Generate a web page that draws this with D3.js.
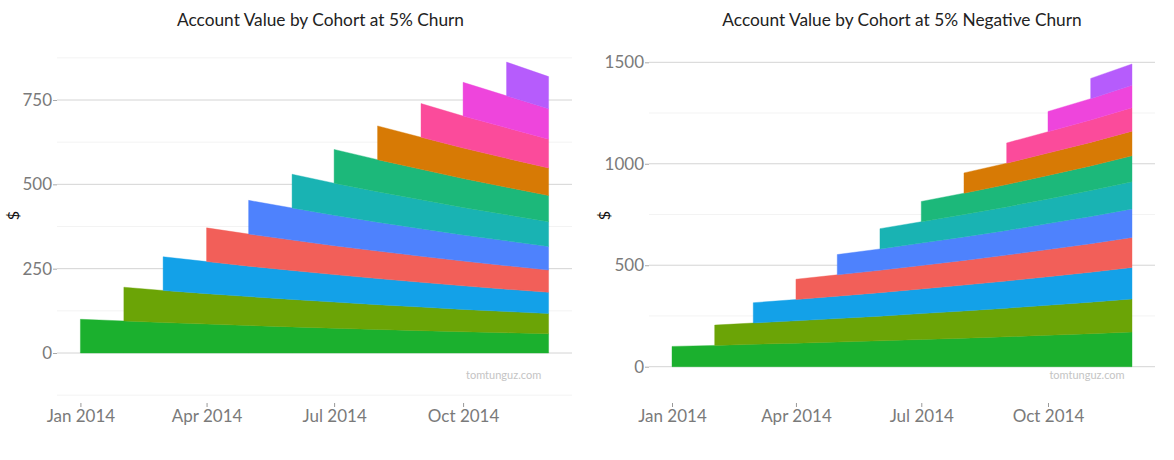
<!DOCTYPE html>
<html>
<head>
<meta charset="utf-8">
<script src="https://cdn.jsdelivr.net/npm/d3@7"></script>
<style>
  body { margin: 0; background: #fff; }
  text { font-family: Lato, "Open Sans", sans-serif; }
</style>
</head>
<body>
<script>

// months of 2014, one point per month start
var months = ["2014-01-01", "2014-02-01", "2014-03-01", "2014-04-01", "2014-05-01", "2014-06-01",
              "2014-07-01", "2014-08-01", "2014-09-01", "2014-10-01", "2014-11-01", "2014-12-01"];

// cohort k starts in month k (index into months)
var cohortStart = [0, 1, 2, 3, 4, 5, 6, 7, 8, 9, 10];

var cohortColors = ["#1bb02e", "#6ba406", "#13a1e8", "#f25f59", "#4e82fd", "#19b3b3",
                    "#1cb87a", "#d77a05", "#fb4b9b", "#ee45dc", "#b65cfc"];

// account value per cohort, 5% churn
var churnValues = [
    [100, 95, 90.3, 85.7, 81.5, 77.4, 73.5, 69.8, 66.3, 63.0, 59.9, 56.9],
    [100, 95, 90.3, 85.7, 81.5, 77.4, 73.5, 69.8, 66.3, 63.0, 59.9],
    [100, 95, 90.3, 85.7, 81.5, 77.4, 73.5, 69.8, 66.3, 63.0],
    [100, 95, 90.3, 85.7, 81.5, 77.4, 73.5, 69.8, 66.3],
    [100, 95, 90.3, 85.7, 81.5, 77.4, 73.5, 69.8],
    [100, 95, 90.3, 85.7, 81.5, 77.4, 73.5],
    [100, 95, 90.3, 85.7, 81.5, 77.4],
    [100, 95, 90.3, 85.7, 81.5],
    [100, 95, 90.3, 85.7],
    [100, 95, 90.3],
    [100, 95]
];

// account value per cohort, 5% negative churn
var negChurnValues = [
    [100, 105, 110.3, 115.8, 121.6, 127.6, 134.0, 140.7, 147.7, 155.1, 162.9, 171.0],
    [100, 105, 110.3, 115.8, 121.6, 127.6, 134.0, 140.7, 147.7, 155.1, 162.9],
    [100, 105, 110.3, 115.8, 121.6, 127.6, 134.0, 140.7, 147.7, 155.1],
    [100, 105, 110.3, 115.8, 121.6, 127.6, 134.0, 140.7, 147.7],
    [100, 105, 110.3, 115.8, 121.6, 127.6, 134.0, 140.7],
    [100, 105, 110.3, 115.8, 121.6, 127.6, 134.0],
    [100, 105, 110.3, 115.8, 121.6, 127.6],
    [100, 105, 110.3, 115.8, 121.6],
    [100, 105, 110.3, 115.8],
    [100, 105, 110.3],
    [100, 105]
];

var xTickDates = ["2014-01-01", "2014-04-01", "2014-07-01", "2014-10-01"];
var xTickLabels = ["Jan 2014", "Apr 2014", "Jul 2014", "Oct 2014"];

var churnTicks = [0, 250, 500, 750];
var churnMinor = [-125, 125, 375, 625, 875];
var negTicks = [0, 500, 1000, 1500];
var negMinor = [250, 750, 1250];

var parse = d3.timeParse("%Y-%m-%d");
var dates = months.map(parse);

var svg = d3.select("body")
    .append("svg")
        .attr("width", 1174)
        .attr("height", 460);

drawPanel({
    title: "Account Value by Cohort at 5% Churn",
    values: churnValues,
    ticks: churnTicks,
    minor: churnMinor,
    left: 57, right: 572, top: 48, bottom: 403,
    y0: 353, yRef: 100, yRefVal: 750,
    yLabelX: 13,
    titleShift: 6
});

drawPanel({
    title: "Account Value by Cohort at 5% Negative Churn",
    values: negChurnValues,
    ticks: negTicks,
    minor: negMinor,
    left: 649, right: 1155, top: 48, bottom: 403,
    y0: 366.7, yRef: 62.3, yRefVal: 1500,
    yLabelX: 604,
    titleShift: 0
});

function drawPanel(p) {

    var g = svg.append("g");

    // ggplot style 5% expansion on the date range
    var t0 = dates[0].getTime(), t1 = dates[dates.length - 1].getTime();
    var pad = (t1 - t0) * 0.05;
    var x = d3.scaleTime()
        .domain([new Date(t0 - pad), new Date(t1 + pad)])
        .range([p.left, p.right]);

    var k = (p.y0 - p.yRef) / p.yRefVal;
    var y = d3.scaleLinear()
        .domain([(p.y0 - p.bottom) / k, (p.y0 - p.top) / k])
        .range([p.bottom, p.top]);

    // minor grid
    g.selectAll(".minor")
        .data(p.minor.filter(function (v) { return y(v) >= p.top && y(v) <= p.bottom; }))
        .enter()
        .append("line")
            .attr("x1", p.left).attr("x2", p.right)
            .attr("y1", function (d) { return y(d); })
            .attr("y2", function (d) { return y(d); })
            .attr("stroke", "#f3f3f3")
            .attr("stroke-width", 1);

    // major grid
    g.selectAll(".major")
        .data(p.ticks)
        .enter()
        .append("line")
            .attr("x1", p.left).attr("x2", p.right)
            .attr("y1", function (d) { return y(d); })
            .attr("y2", function (d) { return y(d); })
            .attr("stroke", "#d4d4d4")
            .attr("stroke-width", 1);

    // stacked totals per month
    var n = dates.length;
    var base = [];
    for (var m = 0; m < n; m++) base.push(0);

    var area = d3.area()
        .x(function (d) { return x(d.date); })
        .y0(function (d) { return y(d.lo); })
        .y1(function (d) { return y(d.hi); });

    p.values.forEach(function (row, c) {
        var pts = row.map(function (v, i) {
            var m = cohortStart[c] + i;
            var pt = { date: dates[m], lo: base[m], hi: base[m] + v };
            base[m] += v;
            return pt;
        });

        g.append("path")
            .attr("d", area(pts))
            .attr("fill", cohortColors[c])
            .attr("stroke", cohortColors[c])
            .attr("stroke-width", 0.4);
    });

    // y axis
    var yAxis = g.append("g")
        .attr("transform", "translate(" + p.left + ",0)")
        .call(d3.axisLeft(y)
            .tickValues(p.ticks)
            .tickFormat(d3.format("d"))
            .tickSize(4)
            .tickPadding(1));
    yAxis.select(".domain").remove();
    yAxis.selectAll(".tick line").attr("stroke", "#aaaaaa");
    yAxis.selectAll(".tick text")
        .attr("fill", "#7a7a7a")
        .style("font-size", "17px")
        .style("font-family", "Lato, sans-serif");

    // x axis
    var xAxis = g.append("g")
        .attr("transform", "translate(0," + p.bottom + ")")
        .call(d3.axisBottom(x)
            .tickValues(xTickDates.map(parse))
            .tickFormat(function (d, i) { return xTickLabels[i]; })
            .tickSize(4)
            .tickPadding(3));
    xAxis.select(".domain").remove();
    xAxis.selectAll(".tick line").attr("stroke", "#999999");
    xAxis.selectAll(".tick text")
        .attr("fill", "#7a7a7a")
        .style("font-size", "17px")
        .style("font-family", "Lato, sans-serif");

    // titles
    g.append("text")
        .attr("x", (p.left + p.right) / 2 + p.titleShift)
        .attr("y", 26)
        .attr("text-anchor", "middle")
        .attr("fill", "#222")
        .style("font-size", "17.3px")
        .text(p.title);

    g.append("text")
        .attr("transform", "translate(" + p.yLabelX + "," + ((p.top + p.bottom) / 2 - 10) + ") rotate(-90)")
        .attr("text-anchor", "middle")
        .attr("dy", "0.35em")
        .attr("fill", "#111")
        .style("font-size", "16px")
        .text("$");

    // watermark
    g.append("text")
        .attr("x", x(dates[n - 1]) - 45)
        .attr("y", 379)
        .attr("text-anchor", "middle")
        .attr("fill", "#c4c4c4")
        .style("font-size", "11px")
        .text("tomtunguz.com");
}

</script>
</body>
</html>
